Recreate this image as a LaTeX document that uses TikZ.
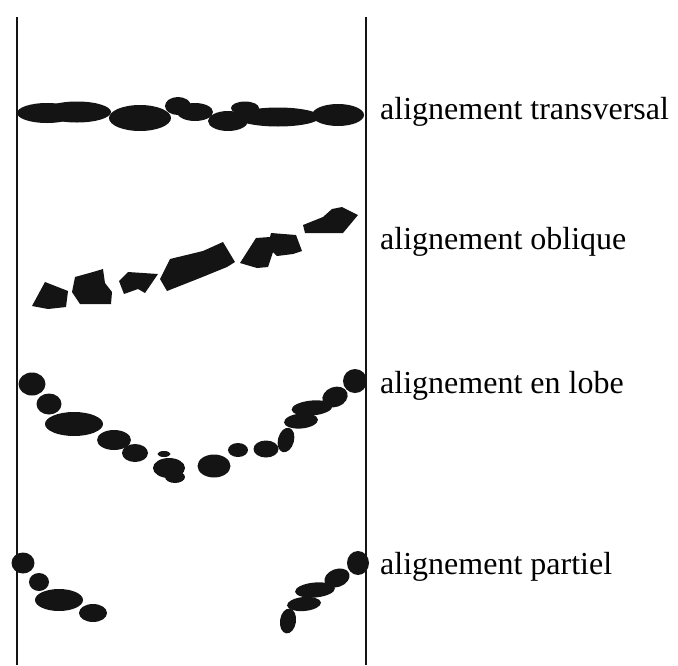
\documentclass[tikz,border=0pt]{standalone}
\usepackage{fontspec}
\setmainfont{Liberation Serif}
\begin{document}
\begin{tikzpicture}[x=1pt,y=-1pt,
  blob/.style={fill=black!92,draw=none},
  wall/.style={line width=2.3pt,black!92},
  label/.style={anchor=base west,inner sep=0pt,font=\fontsize{32}{38}\selectfont}]
\useasboundingbox (0,0) rectangle (678,665);

% side walls
\coordinate (lt) at (17,17);
\coordinate (lb) at (17,665);
\coordinate (rt) at (366,17);
\coordinate (rb) at (366,665);
\draw[wall] (lt) -- (lb);
\draw[wall] (rt) -- (rb);

% transverse row
\fill[blob] (47,113) ellipse [x radius=30,y radius=10];
\fill[blob] (77,112) ellipse [x radius=34,y radius=10.5];
\fill[blob] (140,118) ellipse [x radius=31,y radius=13];
\fill[blob] (178,106) ellipse [x radius=13,y radius=9];
\fill[blob] (195,112) ellipse [x radius=18,y radius=9];
\fill[blob] (228,121) ellipse [x radius=20,y radius=10];
\fill[blob] (245,108) ellipse [x radius=14,y radius=6.5];
\fill[blob] (278,117) ellipse [x radius=42,y radius=9.5];
\fill[blob] (338,115) ellipse [x radius=26,y radius=11];

% oblique row
\fill[blob] (45,282) -- (68,291) -- (66,307) -- (48,309) -- (32,306) -- cycle;
\fill[blob] (75,277) -- (93,272) -- (103,269) -- (105,283) -- (112,292) -- (111,304) -- (80,304) -- (72,292) -- cycle;
\fill[blob] (119,281) -- (128,272) -- (158,274) -- (145,293) -- (138,289) -- (124,294) -- cycle;
\fill[blob] (160,279) -- (170,259) -- (203,251) -- (223,242) -- (235,262) -- (227,267) -- (200,278) -- (167,291) -- cycle;
\fill[blob] (240,263) -- (256,238) -- (270,237) -- (271,233) -- (296,235) -- (302,251) -- (293,254) -- (277,256) -- (273,252) -- (268,267) -- (257,268) -- cycle;
\fill[blob] (303,225) -- (323,217) -- (332,209) -- (342,207) -- (358,215) -- (343,233) -- (305,233) -- cycle;

% lobe row
\fill[blob] (32,384) ellipse [x radius=13.5,y radius=11.5];
\fill[blob] (49,404) ellipse [x radius=12.5,y radius=10.5];
\fill[blob] (74,424) ellipse [x radius=29,y radius=12];
\fill[blob] (114,440) ellipse [x radius=17,y radius=10];
\fill[blob] (135,453) ellipse [x radius=13,y radius=9];
\fill[blob] (164,454) ellipse [x radius=6.5,y radius=3];
\fill[blob] (169,468) ellipse [x radius=16,y radius=10];
\fill[blob] (175,477) ellipse [x radius=10,y radius=6];
\fill[blob] (214,466) ellipse [x radius=16.5,y radius=11.5];
\fill[blob] (238,450) ellipse [x radius=10,y radius=7];
\fill[blob] (266,449) ellipse [x radius=12.5,y radius=8.5];
\fill[blob,rotate around={-15:(286,440)}] (286,440) ellipse [x radius=8,y radius=12.5];
\fill[blob,rotate around={5:(301,421)}] (301,421) ellipse [x radius=17,y radius=7.5];
\fill[blob,rotate around={5:(312,408)}] (312,408) ellipse [x radius=20.5,y radius=7.5];
\fill[blob,rotate around={20:(335,397)}] (335,397) ellipse [x radius=13,y radius=10];
\fill[blob] (355,381) ellipse [x radius=12,y radius=12];

% partial row
\fill[blob] (23,563) ellipse [x radius=11.5,y radius=10.5];
\fill[blob] (39,582) ellipse [x radius=10,y radius=9];
\fill[blob] (59,600) ellipse [x radius=24,y radius=11];
\fill[blob] (93,613) ellipse [x radius=14,y radius=9];
\fill[blob,rotate around={-8:(288,621)}] (288,621) ellipse [x radius=8,y radius=12.5];
\fill[blob,rotate around={5:(304,604)}] (304,604) ellipse [x radius=17,y radius=7];
\fill[blob,rotate around={5:(315,590)}] (315,590) ellipse [x radius=20,y radius=7.5];
\fill[blob,rotate around={20:(337,578)}] (337,578) ellipse [x radius=13,y radius=9];
\fill[blob] (358,563) ellipse [x radius=11,y radius=12];

% labels
\node[label] (t1) at (380,119) {alignement transversal};
\node[label] (t2) at (380,249) {alignement oblique};
\node[label] (t3) at (380,393) {alignement en lobe};
\node[label] (t4) at (380,574) {alignement partiel};
\end{tikzpicture}
\end{document}
